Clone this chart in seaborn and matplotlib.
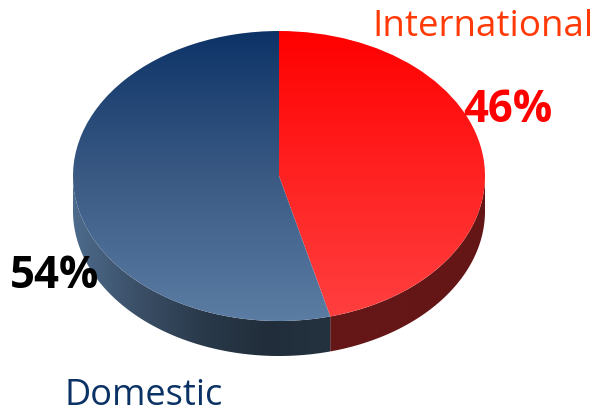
import numpy as np
import matplotlib
matplotlib.use("Agg")
import matplotlib.pyplot as plt
from matplotlib.patches import PathPatch
from matplotlib.path import Path
import seaborn as sns

# Market split
categories = ["International", "Domestic"]
shares = [46, 54]
share_labels = ["46%", "54%"]

W, H = 598, 413
TILT_DEPTH = 35 / 145  # wall height relative to the flattened radius

sns.set_theme(style="white")
plt.rcParams["font.family"] = ["Open Sans", "DejaVu Sans"]

fig = plt.figure(figsize=(W / 100, H / 100), dpi=100, facecolor="white")
# Axes span the ellipse horizontally and ellipse plus wall vertically
ax = fig.add_axes([73 / W, 1 - 356 / H, 412 / W, 325 / H])

wedges, _ = ax.pie(shares, startangle=90, counterclock=False, radius=1,
                   colors=["none", "none"], wedgeprops={"linewidth": 0})
ax.set_aspect("auto")
ax.set_xlim(-1, 1)
ax.set_ylim(-1 - TILT_DEPTH, 1)

top_cmaps = [
    sns.blend_palette(["#ff0000", "#ff2222", "#ff4040"], as_cmap=True),
    sns.blend_palette(["#0d3367", "#3a5a84", "#5b7ca3"], as_cmap=True),
]
wall_cmaps = [
    sns.blend_palette(["#661616", "#641616"], as_cmap=True),
    sns.blend_palette(["#4d6b8c", "#3b4f67", "#2a3a4b", "#212d3a", "#243240"], as_cmap=True),
]
vertical = np.linspace(0, 1, 256).reshape(-1, 1)
horizontal = np.linspace(0, 1, 256).reshape(1, -1)


def wall_path(wedge):
    """Outline of the visible rim below a wedge's front arc."""
    theta = np.radians(np.linspace(wedge.theta1, wedge.theta2, 1441))
    theta = theta[np.sin(theta) <= 0]
    x, y = np.cos(theta), np.sin(theta)
    xs = np.r_[x, x[::-1], x[0]]
    ys = np.r_[y, (y - TILT_DEPTH)[::-1], y[0]]
    return Path(np.column_stack([xs, ys]), closed=True), x.min(), x.max()


for wedge, top_cmap, wall_cmap in zip(wedges, top_cmaps, wall_cmaps):
    path, x0, x1 = wall_path(wedge)
    rim = PathPatch(path, facecolor="none", edgecolor="none")
    ax.add_patch(rim)
    wall = ax.imshow(horizontal, cmap=wall_cmap, aspect="auto",
                     extent=(x0, x1, -1 - TILT_DEPTH, 0), zorder=1)
    wall.set_clip_path(rim)

    surface = ax.imshow(vertical, cmap=top_cmap, aspect="auto",
                        extent=(-1, 1, -1, 1), zorder=2)
    surface.set_clip_path(wedge)

ax.set_xlim(-1, 1)
ax.set_ylim(-1 - TILT_DEPTH, 1)
ax.axis("off")


def px_text(x, y, s, **kw):
    fig.text(x / W, 1 - y / H, s, va="center", ha="center", zorder=5, **kw)


px_text(483, 27, categories[0], color="#ff3a06", fontsize=26.5)
px_text(143.5, 396, categories[1], color="#0b3264", fontsize=26)
px_text(508, 111, share_labels[0], color="#ff0000", fontsize=31.5, fontweight="bold")
px_text(55, 277, share_labels[1], color="#000000", fontsize=31.5, fontweight="bold")

fig.savefig("out.png", dpi=100)
